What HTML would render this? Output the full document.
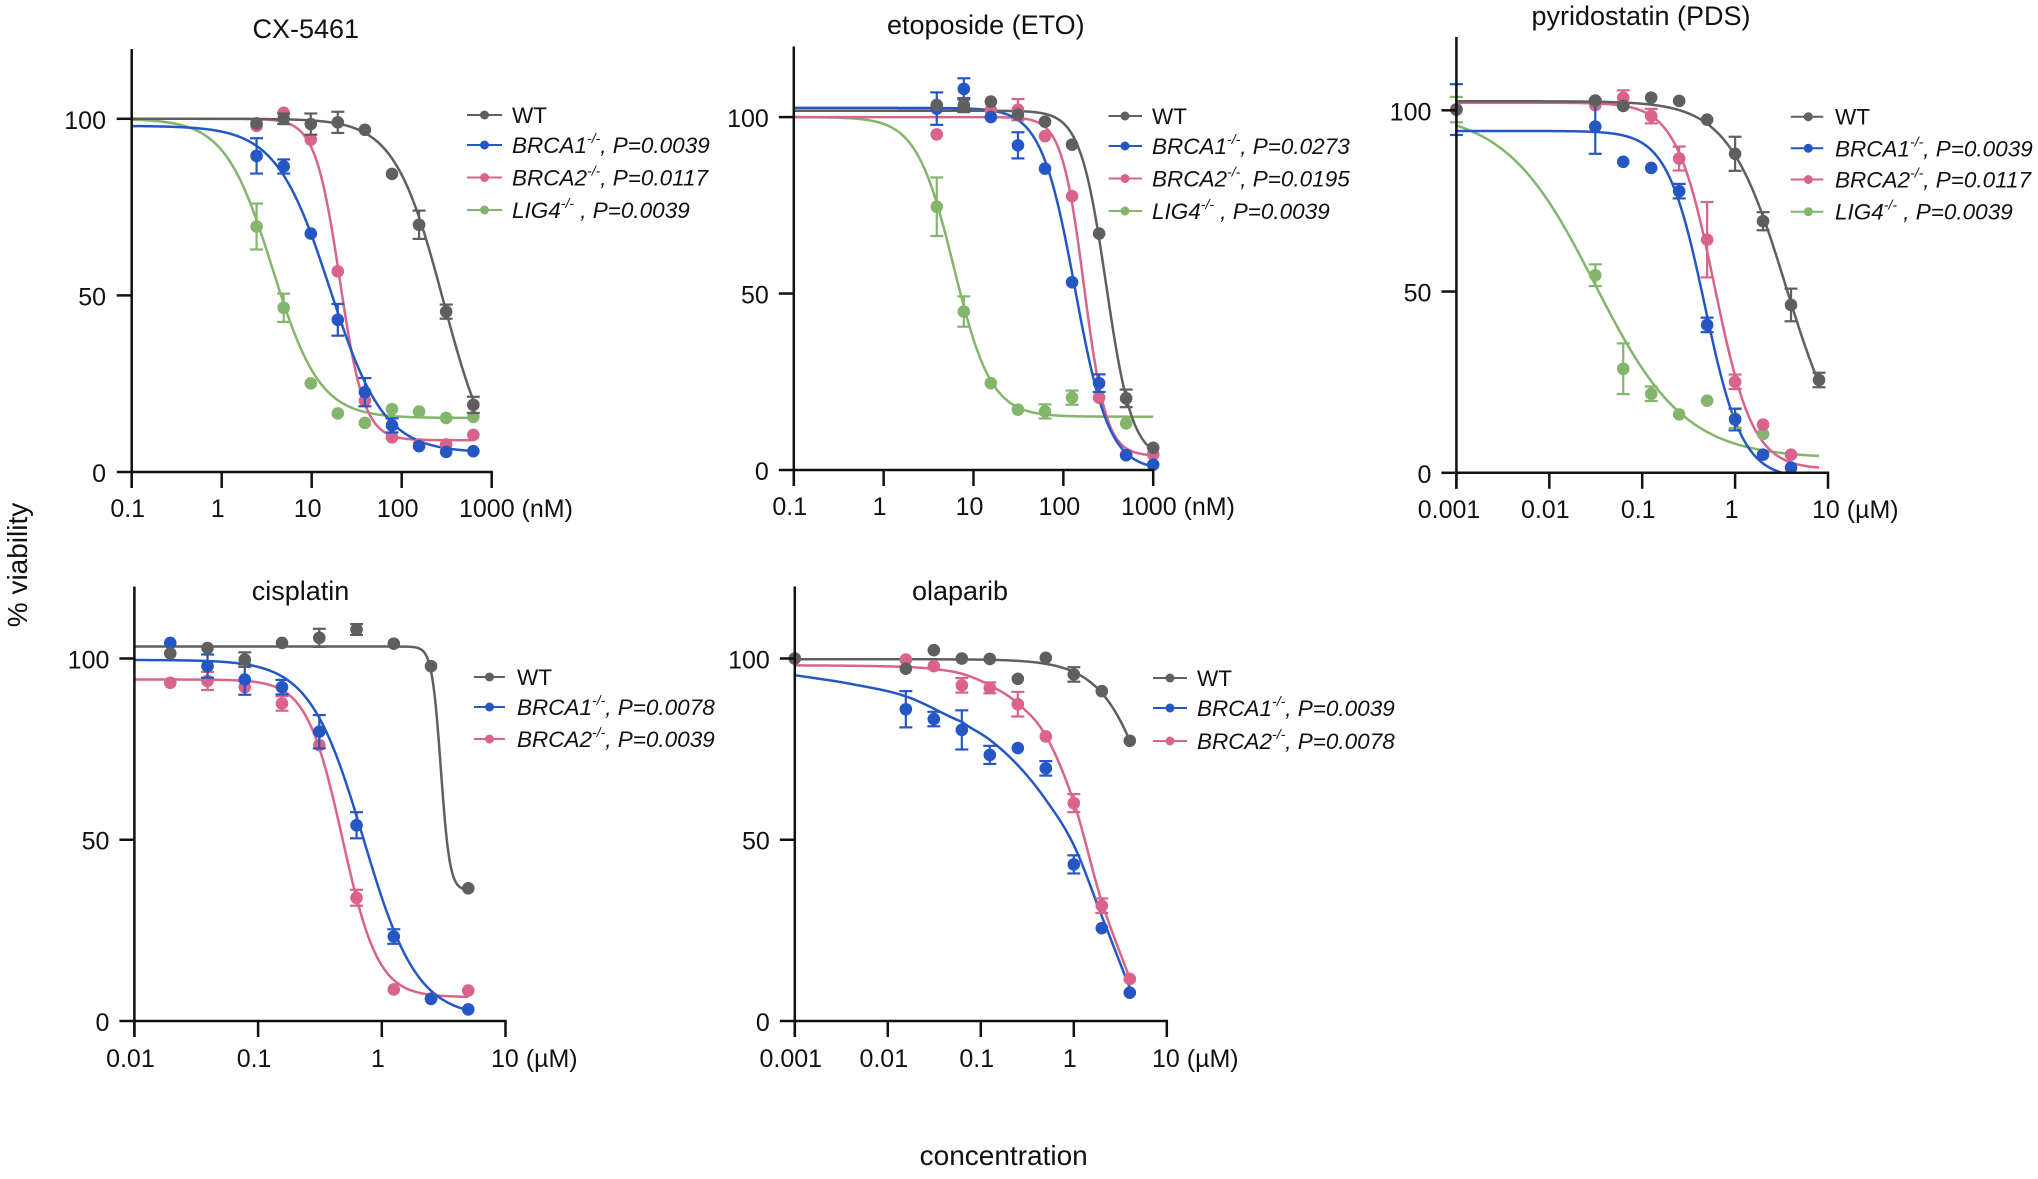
<!DOCTYPE html>
<html>
<head>
<meta charset="utf-8">
<style>
  html, body { margin: 0; padding: 0; background: #ffffff; }
  svg { display: block; }
  .tk { font-size: 25px; fill: #111; }
  .ti { font-size: 27px; fill: #111; }
  .lg { font-size: 22.5px; fill: #111; font-style: italic; }
  .lgn { font-size: 22.5px; fill: #111; }
  .sup { font-size: 14px; }
  .axt { font-size: 28px; fill: #111; }
</style>
</head>
<body>
<svg id="chart" width="2038" height="1179" viewBox="0 0 2038 1179" xmlns="http://www.w3.org/2000/svg" font-family="'Liberation Sans', Arial, Helvetica, sans-serif">
  <rect x="0" y="0" width="2038" height="1179" fill="#ffffff"/>
  <defs>
    <clipPath id="c0"><rect x="131" y="0" width="370" height="473"/></clipPath>
    <clipPath id="c1"><rect x="793" y="0" width="370" height="471"/></clipPath>
    <clipPath id="c2"><rect x="1456" y="0" width="380" height="473.8"/></clipPath>
    <clipPath id="c3"><rect x="134" y="560" width="380" height="462"/></clipPath>
    <clipPath id="c4"><rect x="794" y="560" width="380" height="462"/></clipPath>
  </defs>
  <g id="plot"></g>

  <!-- Titles -->
  <text class="ti" x="305.8" y="38" text-anchor="middle">CX-5461</text>
  <text class="ti" x="985.8" y="34" text-anchor="middle">etoposide (ETO)</text>
  <text class="ti" x="1641" y="25" text-anchor="middle">pyridostatin (PDS)</text>
  <text class="ti" x="300.5" y="600" text-anchor="middle">cisplatin</text>
  <text class="ti" x="960" y="600" text-anchor="middle">olaparib</text>

  <!-- Panel 1 tick labels -->
  <text class="tk" x="106" y="482" text-anchor="end">0</text>
  <text class="tk" x="106" y="305.4" text-anchor="end">50</text>
  <text class="tk" x="106" y="128.8" text-anchor="end">100</text>
  <text class="tk" x="127.7" y="517" text-anchor="middle">0.1</text>
  <text class="tk" x="217.7" y="517" text-anchor="middle">1</text>
  <text class="tk" x="307.7" y="517" text-anchor="middle">10</text>
  <text class="tk" x="397.7" y="517" text-anchor="middle">100</text>
  <text class="tk" x="459" y="517">1000 (nM)</text>

  <!-- Panel 2 tick labels -->
  <text class="tk" x="768.8" y="480" text-anchor="end">0</text>
  <text class="tk" x="768.8" y="303.5" text-anchor="end">50</text>
  <text class="tk" x="768.8" y="127.1" text-anchor="end">100</text>
  <text class="tk" x="789.8" y="515" text-anchor="middle">0.1</text>
  <text class="tk" x="879.6" y="515" text-anchor="middle">1</text>
  <text class="tk" x="969.5" y="515" text-anchor="middle">10</text>
  <text class="tk" x="1059.3" y="515" text-anchor="middle">100</text>
  <text class="tk" x="1121" y="515">1000 (nM)</text>

  <!-- Panel 3 tick labels -->
  <text class="tk" x="1431.4" y="482.8" text-anchor="end">0</text>
  <text class="tk" x="1431.4" y="301.5" text-anchor="end">50</text>
  <text class="tk" x="1431.4" y="120.3" text-anchor="end">100</text>
  <text class="tk" x="1449" y="518" text-anchor="middle">0.001</text>
  <text class="tk" x="1545.3" y="518" text-anchor="middle">0.01</text>
  <text class="tk" x="1638.2" y="518" text-anchor="middle">0.1</text>
  <text class="tk" x="1731.6" y="518" text-anchor="middle">1</text>
  <text class="tk" x="1812" y="518">10 (µM)</text>

  <!-- Panel 4 tick labels -->
  <text class="tk" x="109.4" y="1031" text-anchor="end">0</text>
  <text class="tk" x="109.4" y="849.7" text-anchor="end">50</text>
  <text class="tk" x="109.4" y="668.5" text-anchor="end">100</text>
  <text class="tk" x="130.4" y="1067" text-anchor="middle">0.01</text>
  <text class="tk" x="254.1" y="1067" text-anchor="middle">0.1</text>
  <text class="tk" x="377.8" y="1067" text-anchor="middle">1</text>
  <text class="tk" x="491" y="1067">10 (µM)</text>

  <!-- Panel 5 tick labels -->
  <text class="tk" x="769.8" y="1031" text-anchor="end">0</text>
  <text class="tk" x="769.8" y="849.7" text-anchor="end">50</text>
  <text class="tk" x="769.8" y="668.5" text-anchor="end">100</text>
  <text class="tk" x="790.8" y="1067" text-anchor="middle">0.001</text>
  <text class="tk" x="883.8" y="1067" text-anchor="middle">0.01</text>
  <text class="tk" x="976.8" y="1067" text-anchor="middle">0.1</text>
  <text class="tk" x="1069.8" y="1067" text-anchor="middle">1</text>
  <text class="tk" x="1152" y="1067">10 (µM)</text>

  <!-- Axis titles -->
  <text class="axt" x="27" y="565" text-anchor="middle" transform="rotate(-90 27 565)">% viability</text>
  <text class="axt" x="1003.7" y="1165" text-anchor="middle">concentration</text>

  <!-- Legend panel 1 -->
  <g stroke-width="2">
    <line x1="467" x2="502" y1="115" y2="115" stroke="#5f5f5f"/>
    <line x1="467" x2="502" y1="145" y2="145" stroke="#2557c4"/>
    <line x1="467" x2="502" y1="177.5" y2="177.5" stroke="#d9638b"/>
    <line x1="467" x2="502" y1="210" y2="210" stroke="#84b56d"/>
  </g>
  <circle cx="484.5" cy="115" r="4.5" fill="#5f5f5f"/>
  <circle cx="484.5" cy="145" r="4.5" fill="#2557c4"/>
  <circle cx="484.5" cy="177.5" r="4.5" fill="#d9638b"/>
  <circle cx="484.5" cy="210" r="4.5" fill="#84b56d"/>
  <text class="lgn" x="512" y="123">WT</text>
  <text class="lg" x="512" y="153">BRCA1<tspan class="sup" dy="-10">-/-</tspan><tspan dy="10">, P=0.0039</tspan></text>
  <text class="lg" x="512" y="185.5">BRCA2<tspan class="sup" dy="-10">-/-</tspan><tspan dy="10">, P=0.0117</tspan></text>
  <text class="lg" x="512" y="218">LIG4<tspan class="sup" dy="-10">-/-</tspan><tspan dy="10"> , P=0.0039</tspan></text>

  <!-- Legend panel 2 -->
  <g stroke-width="2">
    <line x1="1108.6" x2="1142" y1="116" y2="116" stroke="#5f5f5f"/>
    <line x1="1108.6" x2="1142" y1="146" y2="146" stroke="#2557c4"/>
    <line x1="1108.6" x2="1142" y1="178.5" y2="178.5" stroke="#d9638b"/>
    <line x1="1108.6" x2="1142" y1="211" y2="211" stroke="#84b56d"/>
  </g>
  <circle cx="1125" cy="116" r="4.5" fill="#5f5f5f"/>
  <circle cx="1125" cy="146" r="4.5" fill="#2557c4"/>
  <circle cx="1125" cy="178.5" r="4.5" fill="#d9638b"/>
  <circle cx="1125" cy="211" r="4.5" fill="#84b56d"/>
  <text class="lgn" x="1152" y="124">WT</text>
  <text class="lg" x="1152" y="154">BRCA1<tspan class="sup" dy="-10">-/-</tspan><tspan dy="10">, P=0.0273</tspan></text>
  <text class="lg" x="1152" y="186.5">BRCA2<tspan class="sup" dy="-10">-/-</tspan><tspan dy="10">, P=0.0195</tspan></text>
  <text class="lg" x="1152" y="219">LIG4<tspan class="sup" dy="-10">-/-</tspan><tspan dy="10"> , P=0.0039</tspan></text>

  <!-- Legend panel 3 -->
  <g stroke-width="2">
    <line x1="1790.7" x2="1823.3" y1="116.7" y2="116.7" stroke="#5f5f5f"/>
    <line x1="1790.7" x2="1823.3" y1="148.3" y2="148.3" stroke="#2557c4"/>
    <line x1="1790.7" x2="1823.3" y1="179.5" y2="179.5" stroke="#d9638b"/>
    <line x1="1790.7" x2="1823.3" y1="211.7" y2="211.7" stroke="#84b56d"/>
  </g>
  <circle cx="1808.3" cy="116.7" r="4.5" fill="#5f5f5f"/>
  <circle cx="1808.3" cy="148.3" r="4.5" fill="#2557c4"/>
  <circle cx="1808.3" cy="179.5" r="4.5" fill="#d9638b"/>
  <circle cx="1808.3" cy="211.7" r="4.5" fill="#84b56d"/>
  <text class="lgn" x="1835" y="124.7">WT</text>
  <text class="lg" x="1835" y="156.3">BRCA1<tspan class="sup" dy="-10">-/-</tspan><tspan dy="10">, P=0.0039</tspan></text>
  <text class="lg" x="1835" y="187.5">BRCA2<tspan class="sup" dy="-10">-/-</tspan><tspan dy="10">, P=0.0117</tspan></text>
  <text class="lg" x="1835" y="219.7">LIG4<tspan class="sup" dy="-10">-/-</tspan><tspan dy="10"> , P=0.0039</tspan></text>

  <!-- Legend panel 4 -->
  <g stroke-width="2">
    <line x1="474" x2="505" y1="677" y2="677" stroke="#5f5f5f"/>
    <line x1="474" x2="505" y1="707" y2="707" stroke="#2557c4"/>
    <line x1="474" x2="505" y1="739" y2="739" stroke="#d9638b"/>
  </g>
  <circle cx="489.5" cy="677" r="4.5" fill="#5f5f5f"/>
  <circle cx="489.5" cy="707" r="4.5" fill="#2557c4"/>
  <circle cx="489.5" cy="739" r="4.5" fill="#d9638b"/>
  <text class="lgn" x="517" y="685">WT</text>
  <text class="lg" x="517" y="715">BRCA1<tspan class="sup" dy="-10">-/-</tspan><tspan dy="10">, P=0.0078</tspan></text>
  <text class="lg" x="517" y="747">BRCA2<tspan class="sup" dy="-10">-/-</tspan><tspan dy="10">, P=0.0039</tspan></text>

  <!-- Legend panel 5 -->
  <g stroke-width="2">
    <line x1="1153" x2="1187" y1="678" y2="678" stroke="#5f5f5f"/>
    <line x1="1153" x2="1187" y1="708" y2="708" stroke="#2557c4"/>
    <line x1="1153" x2="1187" y1="741" y2="741" stroke="#d9638b"/>
  </g>
  <circle cx="1170" cy="678" r="4.5" fill="#5f5f5f"/>
  <circle cx="1170" cy="708" r="4.5" fill="#2557c4"/>
  <circle cx="1170" cy="741" r="4.5" fill="#d9638b"/>
  <text class="lgn" x="1197" y="686">WT</text>
  <text class="lg" x="1197" y="716">BRCA1<tspan class="sup" dy="-10">-/-</tspan><tspan dy="10">, P=0.0039</tspan></text>
  <text class="lg" x="1197" y="749">BRCA2<tspan class="sup" dy="-10">-/-</tspan><tspan dy="10">, P=0.0078</tspan></text>
</svg>

<script>
(function(){
  var NS = "http://www.w3.org/2000/svg";
  var root = document.getElementById("plot");
  function el(tag, attrs, parent){
    var e = document.createElementNS(NS, tag);
    for (var k in attrs) e.setAttribute(k, attrs[k]);
    (parent||root).appendChild(e);
    return e;
  }
  var GR = "#5f5f5f", BL = "#2557c4", PK = "#d9638b", GN = "#84b56d";

  function fpl(f, x){ return f[1] + (f[0]-f[1])/(1+Math.pow(x/f[2], f[3])); }
  function spline(pts, l){
    var n = pts.length;
    if (l <= pts[0][0]) return pts[0][1];
    if (l >= pts[n-1][0]) return pts[n-1][1];
    var k = 0;
    while (k < n-2 && l > pts[k+1][0]) k++;
    var p1 = pts[k], p2 = pts[k+1];
    var p0 = pts[k-1] || [2*p1[0]-p2[0], 2*p1[1]-p2[1]];
    var p3 = pts[k+2] || [2*p2[0]-p1[0], 2*p2[1]-p1[1]];
    var t = (l - p1[0])/(p2[0]-p1[0]);
    var a = p0[1], b = p1[1], c = p2[1], d = p3[1];
    return 0.5*(2*b + (-a+c)*t + (2*a-5*b+4*c-d)*t*t + (-a+3*b-3*c+d)*t*t*t);
  }

  var panels = [
    { ax:131.7, dec:90, lmin:-1, lmax:3, y0:472, ypu:3.532, top:49, clip:"c0",
      xs:[2.44,4.88,9.77,19.5,39,78,156,312,625], xr:[0.1,625],
      s:[
        {c:GN, f:[100,15.3,3.66,1.65], p:[[69.5,6.5],[46.5,4],[25.1,0],[16.6,0],[13.9,0],[17.8,0],[17.1,0],[15.3,0],[15.6,0]]},
        {c:PK, f:[100,9,20.5,3.2], p:[[98,0],[101.7,0],[94.1,0],[56.8,0],[20.2,0],[9.8,0],[7.8,0],[7.8,0],[10.5,0]]},
        {c:BL, f:[98,5.5,16,1.45], p:[[89.5,5],[86.5,2],[67.5,0],[43.1,4.5],[22.6,4],[13.2,2],[7.3,0],[5.7,0],[5.9,0]]},
        {c:GR, f:[100,-3,290,1.6], p:[[98.7,0],[100,1.5],[98.5,3],[99,3],[96.9,0],[84.4,0],[70,4],[45.4,2],[19,2.3]]}
      ]},
    { ax:793.8, dec:89.85, lmin:-1, lmax:3, y0:470, ypu:3.529, top:46.5, clip:"c1",
      xs:[3.9,7.8,15.6,31.25,62.5,125,250,500,1000], xr:[0.1,1000],
      s:[
        {c:GN, f:[100,15.1,6.03,2.09], p:[[74.6,8.3],[44.9,4.3],[24.6,0],[17.1,0],[16.6,2],[20.5,2],null,[13.2,0],null]},
        {c:PK, f:[100,4,170,3.5], p:[[95.1,0],null,[102,0],[102.1,3],[94.6,0],[77.6,0],[20.5,0],[4.2,0],[4.4,0]]},
        {c:BL, f:[102.6,0,135,2.3], p:[[102.4,4.6],[108,3],[100,0],[92,3.7],[85.4,0],[53.2,0],[24.6,2.5],[4.2,0],[1.5,0]]},
        {c:GR, f:[101.8,3,300,3], p:[[103.4,0],[103.4,2],[104.4,0],[100.7,0],[98.7,0],[92.2,0],[67,0],[20.3,2.5],[6.3,0]]}
      ]},
    { ax:1456.4, dec:92.9, lmin:-3, lmax:1, y0:472.8, ypu:3.625, top:37, clip:"c2",
      xs:[0.001,0.03125,0.0625,0.125,0.25,0.5,1,2,4,8], xr:[0.001,8],
      s:[
        {c:GN, f:[100,4,0.031,0.9], p:[[100.2,3.5],[54.5,3],[28.7,7],[21.8,2],[16.1,0],[19.9,0],[15,2.6],[10.7,0],null,null]},
        {c:PK, f:[102.1,1,0.6,2.1], p:[null,[101.4,0],[103.5,2],[98.4,2],[86.7,3.3],[64.3,10.4],[25.1,2],[13.3,0],[5,0],null]},
        {c:BL, f:[94.3,-1.5,0.47,2.15], p:[[100.2,7],[95.5,7.5],[85.8,0],[84.1,0],[77.7,2],[40.8,2],[14.7,3],[5,0],[1.4,0],null]},
        {c:GR, f:[102.5,0,3.54,1.4], p:[[100.2,0],[102.7,0],[101.2,0],[103.5,0],[102.6,0],[97.4,0],[88,4.7],[69.4,2.5],[46.3,4.5],[25.6,2]]}
      ]},
    { ax:134.4, dec:123.7, lmin:-2, lmax:1, y0:1021, ypu:3.625, top:586.5, clip:"c3",
      xs:[0.0195,0.039,0.078,0.156,0.3125,0.625,1.25,2.5,5], xr:[0.01,5],
      s:[
        {c:PK, f:[94.2,6.6,0.48,3], p:[[93.3,0],[93.8,2.5],[92.1,0],[87.6,2],[76.1,0],[34,2.2],[8.7,0],[6.2,0],[8.4,0]]},
        {c:BL, f:[99.6,1,0.71,2], p:[[104.3,0],[97.9,3.2],[94.2,4.2],[92.1,2],[79.8,4.6],[54,3.6],[23.3,2],[6.1,0],[3.2,0]]},
        {c:GR, f:[103.3,36,3.0,12], p:[[101.4,0],[102.9,0],[99.7,2],[104.3,0],[105.7,2.5],[108,1.5],[104.1,0],[97.9,0],[36.6,0]]}
      ]},
    { ax:794.8, dec:93, lmin:-3, lmax:1, y0:1021, ypu:3.625, top:586.5, clip:"c4",
      xs:[0.001,0.015625,0.03125,0.0625,0.125,0.25,0.5,1,2,4], xr:[0.001,4],
      s:[
        {c:PK, sp:[[-3,98.1],[-2.4,98.0],[-1.806,97.7],[-1.505,97.1],[-1.204,95.8],[-0.903,92.6],[-0.602,87.6],[-0.301,78.7],[0,60.4],[0.301,32.9],[0.602,11.7]],
         p:[null,[99.7,0],[97.9,0],[92.6,2],[91.9,1.5],[87.4,3.4],[78.5,0],[60.1,2.5],[31.8,2],[11.6,0]]},
        {c:BL, sp:[[-3,95.4],[-2.4,93.0],[-1.8,89.5],[-1.2,82.5],[-0.9,77.5],[-0.6,70.5],[-0.3,61.0],[0,48.5],[0.3,29.0],[0.602,9.1]],
         p:[null,[86,5],[83.3,2],[80.3,5.4],[73.4,2.5],[75.3,0],[69.7,2],[43.2,2.5],[25.6,0],[7.8,0]]},
        {c:GR, f:[99.8,0,9.1,1.5], p:[[100,0],[97.2,0],[102.3,0],[100,0],[99.9,0],[94.4,0],[100.2,0],[95.6,2],[91,0],[77.3,0]]}
      ]}
  ];

  panels.forEach(function(P){
    function X(l){ return P.ax + (l - P.lmin)*P.dec; }
    function Y(v){ return P.y0 - v*P.ypu; }
    var g = el("g", {});
    var cg = el("g", {"clip-path":"url(#"+P.clip+")"}, g);
    P.s.forEach(function(S){
      var l0 = Math.log10(P.xr[0]), l1 = Math.log10(P.xr[1]);
      var N = 400, d = "";
      for (var i=0;i<=N;i++){
        var l = l0 + (l1-l0)*i/N;
        var v = S.f ? fpl(S.f, Math.pow(10,l)) : spline(S.sp, l);
        d += (i? "L":"M") + X(l).toFixed(2) + "," + Y(v).toFixed(2);
      }
      el("path", {d:d, fill:"none", stroke:S.c, "stroke-width":2.5, "stroke-linejoin":"round"}, cg);
    });
    P.s.forEach(function(S){
      S.p.forEach(function(pt, i){
        if (!pt) return;
        var x = X(Math.log10(P.xs[i])), y = Y(pt[0]);
        if (pt[1] > 0){
          var ya = Y(pt[0]+pt[1]), yb = Y(pt[0]-pt[1]);
          el("line", {x1:x, x2:x, y1:ya, y2:yb, stroke:S.c, "stroke-width":2.2}, g);
          el("line", {x1:x-6.5, x2:x+6.5, y1:ya, y2:ya, stroke:S.c, "stroke-width":2.2}, g);
          el("line", {x1:x-6.5, x2:x+6.5, y1:yb, y2:yb, stroke:S.c, "stroke-width":2.2}, g);
        }
        el("circle", {cx:x, cy:y, r:6.3, fill:S.c}, g);
      });
    });
    var xe = X(P.lmax);
    el("line", {x1:P.ax, x2:P.ax, y1:P.top, y2:P.y0+16, stroke:"#111", "stroke-width":2.5}, g);
    el("line", {x1:P.ax-1.2, x2:xe+1.2, y1:P.y0, y2:P.y0, stroke:"#111", "stroke-width":2.5}, g);
    [0,50,100].forEach(function(v){
      el("line", {x1:P.ax-15, x2:P.ax, y1:Y(v), y2:Y(v), stroke:"#111", "stroke-width":2.5}, g);
    });
    for (var l=P.lmin; l<=P.lmax; l++){
      el("line", {x1:X(l), x2:X(l), y1:P.y0, y2:P.y0+16, stroke:"#111", "stroke-width":2.5}, g);
    }
  });
})();
</script>
</body>
</html>
